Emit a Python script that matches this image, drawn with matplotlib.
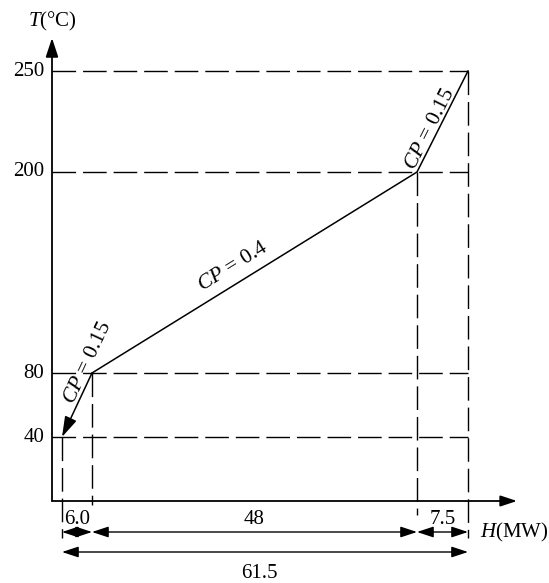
import numpy as np
import matplotlib
matplotlib.use("Agg")
import matplotlib.pyplot as plt

# ---------------- data ----------------
T_levels = [40, 80, 200, 250]          # temperatures (°C) at the kinks
dH_segments = [6.0, 48, 7.5]            # enthalpy change of each segment (MW)
H_total = 61.5                          # total enthalpy change (MW)
CP_values = [0.15, 0.4, 0.15]           # CP of each segment
T_ticks = [40, 80, 200, 250]
T_tick_labels = ["40", "80", "200", "250"]
dH_labels = ["6.0", "48", "7.5"]
total_label = "61.5"

H_points = np.concatenate([[0.0], np.cumsum(dH_segments)])

# ---------------- layout (schematic, not to scale) ----------------
W, Hh = 549, 583
H_screen = [62, 92, 417, 468]                 # screen x of H_points
T_anchor = [0, 40, 80, 200, 250]
T_screen = [82, 146, 210, 411, 512]           # screen y (from bottom) of T_anchor
axis_x_px = 52
x_arrow_tip_px = 517
y_arrow_tip_px = 545
vline_bottom_px = [45, 78, 68, 45]            # bottom end of vertical dashed lines
row1_px, row2_px = 51, 31

plt.rcParams["font.family"] = ["Liberation Serif", "DejaVu Serif"]
plt.rcParams["mathtext.fontset"] = "custom"
plt.rcParams["mathtext.rm"] = "Liberation Serif"
plt.rcParams["mathtext.it"] = "Liberation Serif:italic"
FS = 15


def piecewise(xk, yk):
    xk = np.asarray(xk, float)
    yk = np.asarray(yk, float)

    def f(v):
        v = np.asarray(v, float)
        out = np.interp(v, xk, yk)
        lo_s = (yk[1] - yk[0]) / (xk[1] - xk[0])
        hi_s = (yk[-1] - yk[-2]) / (xk[-1] - xk[-2])
        out = np.where(v < xk[0], yk[0] + (v - xk[0]) * lo_s, out)
        out = np.where(v > xk[-1], yk[-1] + (v - xk[-1]) * hi_s, out)
        return out
    return f


fx, fx_inv = piecewise(H_points, H_screen), piecewise(H_screen, H_points)
fy, fy_inv = piecewise(T_anchor, T_screen), piecewise(T_screen, T_anchor)

fig = plt.figure(figsize=(W / 100, Hh / 100), dpi=100)
ax = fig.add_axes([0, 0, 1, 1])
ax.set_xscale("function", functions=(fx, fx_inv))
ax.set_yscale("function", functions=(fy, fy_inv))
ax.set_xlim(float(fx_inv(0)), float(fx_inv(W)))
ax.set_ylim(float(fy_inv(0)), float(fy_inv(Hh)))
ax.axis("off")

H_ax = float(fx_inv(axis_x_px))
k = "black"
dash = (0, (17, 5))

# axes with arrows
ax.annotate("", xy=(H_ax, float(fy_inv(y_arrow_tip_px))), xytext=(H_ax, 0),
            arrowprops=dict(arrowstyle="-|>,head_length=1.15,head_width=0.38",
                            mutation_scale=10, lw=1.3, color=k, shrinkA=0, shrinkB=0))
ax.annotate("", xy=(float(fx_inv(x_arrow_tip_px)), 0), xytext=(H_ax, 0),
            arrowprops=dict(arrowstyle="-|>,head_length=1.0,head_width=0.33",
                            mutation_scale=10, lw=1.3, color=k, shrinkA=0, shrinkB=0))

# dashed guide lines
for T in T_levels:
    ax.plot([H_ax, H_total], [T, T], ls=dash, lw=1.0, color=k)
for Hp, T, b in zip(H_points, T_levels, vline_bottom_px):
    ax.plot([Hp, Hp], [T, float(fy_inv(b))], ls=dash, lw=1.0, color=k)

# stream curve
ax.plot(H_points[1:], T_levels[1:], color=k, lw=1.1)
ax.annotate("", xy=(H_points[0], T_levels[0]), xytext=(H_points[1], T_levels[1]),
            arrowprops=dict(arrowstyle="-|>,head_length=1.25,head_width=0.38",
                            mutation_scale=10, lw=1.1, color=k, shrinkA=0, shrinkB=0))

# CP labels
cp_offsets = [(11, 42), (-21, 6), (-12, -8)]
for i, cp in enumerate(CP_values):
    p1 = ax.transData.transform((H_points[i], T_levels[i]))
    p2 = ax.transData.transform((H_points[i + 1], T_levels[i + 1]))
    ang = np.degrees(np.arctan2(p2[1] - p1[1], p2[0] - p1[0]))
    mid = ((H_points[i] + H_points[i + 1]) / 2, (T_levels[i] + T_levels[i + 1]) / 2)
    ax.annotate(r"$CP$ = %s" % cp, xy=mid, xytext=cp_offsets[i],
                textcoords="offset pixels", ha="center", va="center",
                rotation=ang, rotation_mode="anchor", fontsize=FS + 0.5)

# y tick labels
for T, lab in zip(T_ticks, T_tick_labels):
    ax.annotate(lab, xy=(H_ax, T), xytext=(-8, 0), textcoords="offset pixels",
                ha="right", va="center", fontsize=FS)

# axis titles
ax.annotate(r"$T$(°C)", xy=(H_ax, float(fy_inv(y_arrow_tip_px))), xytext=(0, 17),
            textcoords="offset pixels", ha="center", va="center", fontsize=FS)
ax.annotate(r"$H$(MW)", xy=(H_total, float(fy_inv(row1_px))), xytext=(12, 0),
            textcoords="offset pixels", ha="left", va="center", fontsize=FS)

# dimension arrows
r1 = float(fy_inv(row1_px))
r2 = float(fy_inv(row2_px))
dim_style = dict(arrowstyle="<|-|>,head_length=1.0,head_width=0.33",
                 mutation_scale=10, lw=1.0, color=k, shrinkA=0, shrinkB=0)
for i, lab in enumerate(dH_labels):
    ax.annotate("", xy=(H_points[i + 1], r1), xytext=(H_points[i], r1), arrowprops=dim_style)
    ax.annotate(lab, xy=((H_points[i] + H_points[i + 1]) / 2, r1), xytext=(0, 12),
                textcoords="offset pixels", ha="center", va="center", fontsize=FS)
ax.annotate("", xy=(H_total, r2), xytext=(0, r2), arrowprops=dim_style)
ax.annotate(total_label, xy=(H_total / 2, r2), xytext=(0, -21),
            textcoords="offset pixels", ha="center", va="center", fontsize=FS)

fig.savefig("out.png", dpi=100)
